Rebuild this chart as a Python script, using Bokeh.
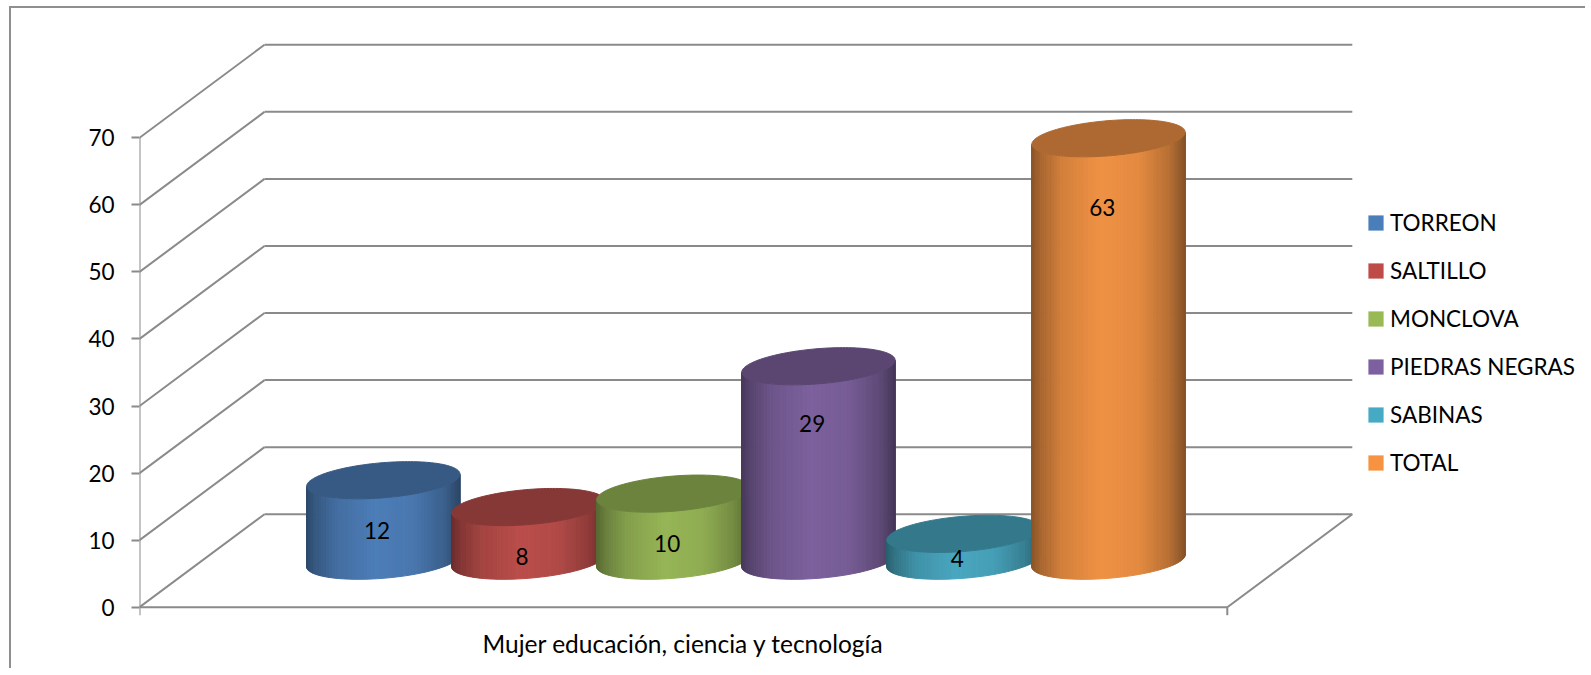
import numpy as np
from bokeh.plotting import figure
from bokeh.models import Range1d, FixedTicker, Legend, LegendItem
from bokeh.embed import file_html
from bokeh.resources import INLINE
from bokeh.core.properties import value

# ---------------- data ----------------
category = ["Mujer educación, ciencia y tecnología"]
series = ["TORREON", "SALTILLO", "MONCLOVA", "PIEDRAS NEGRAS", "SABINAS", "TOTAL"]
values = [12, 8, 10, 29, 4, 63]
y_ticks = [0, 10, 20, 30, 40, 50, 60, 70]
colors = ["#4F81BD", "#C0504D", "#9BBB59", "#8064A2", "#4BACC6", "#F79646"]
legend_colors = ["#4A7EBB", "#BE4B48", "#98B954", "#7D60A0", "#46AAC5", "#F69240"]

# ---------------- layout (screen constants) ----------------
W, H = 1576, 662
LEFT = 128                 # frame left inside figure
PX_X = 181.3               # px per slot unit along the category axis
PX_Y = 6.7057              # px per value unit
ZERO_FROM_TOP = 598.7      # px from frame top to value 0 (front plane)
N_SLOTS = 6.0              # category axis length in slot units
DX = 125.0 / PX_X          # depth shift in x units
DY = 93.0 / PX_Y           # depth shift in value units
BAR_STEP = 0.8
RX = 0.4                   # cylinder radius along x (slot units)
RD = 0.2                   # cylinder radius along depth (fraction of depth)
NSTRIP = 60
GRID = "#8a8a8a"
FONT = "Lato"
FS = "22.5px"

x_end = (W - LEFT) / PX_X
y_end = ZERO_FROM_TOP / PX_Y
y_start = -(H - ZERO_FROM_TOP) / PX_Y

p = figure(width=W, height=H, output_backend="svg", toolbar_location=None,
           x_range=Range1d(0, x_end), y_range=Range1d(y_start, y_end),
           x_axis_location=None, y_axis_location="left",
           min_border_left=LEFT, min_border_right=0, min_border_top=0, min_border_bottom=0,
           background_fill_color="white", border_fill_color="white",
           styles={"position": "absolute", "left": "9px", "top": "6px",
                   "border-left": "2px solid #8f8f8f", "border-top": "2px solid #8f8f8f"})
p.grid.visible = False
p.outline_line_color = None

ax = p.yaxis[0]
ax.ticker = FixedTicker(ticks=y_ticks)
ax.axis_line_color = None
ax.major_tick_out = 8
ax.major_tick_in = 0
ax.major_tick_line_color = GRID
ax.major_tick_line_width = 2
ax.minor_tick_line_color = None
ax.major_label_standoff = 17
ax.major_label_text_font = FONT
ax.major_label_text_font_size = FS
ax.major_label_text_color = "#000000"


def proj(x, v, d):
    return x + d * DX, v + d * DY


# ---------------- walls / floor ----------------
xs, ys = [], []
top_tick = y_ticks[-1]
for t in y_ticks:
    a = proj(0, t, 1)
    b = proj(N_SLOTS, t, 1)
    xs.append([a[0], b[0]]); ys.append([a[1], b[1]])
    c = proj(0, t, 0)
    xs.append([c[0], a[0]]); ys.append([c[1], a[1]])
f0 = proj(0, 0, 0); f1 = proj(N_SLOTS, 0, 0); f2 = proj(N_SLOTS, 0, 1)
xs += [[f0[0], f1[0]], [f1[0], f2[0]], [f0[0], f0[0]]]
ys += [[f0[1], f1[1]], [f1[1], f2[1]], [0, top_tick]]
tick_len = 8 / PX_Y
for xe in (0, N_SLOTS):
    xs.append([xe, xe]); ys.append([0, -tick_len])
p.multi_line(xs, ys, line_color=GRID, line_width=2)


# ---------------- cylinders ----------------
def shade(hexcol, f):
    h = hexcol.lstrip("#")
    rgb = [int(h[i:i + 2], 16) for i in (0, 2, 4)]
    return "#%02x%02x%02x" % tuple(max(0, min(255, int(round(c * f)))) for c in rgb)


prof_s = [0.0, 0.06, 0.2, 0.45, 0.7, 0.9, 1.0]
prof_f = [0.56, 0.68, 0.85, 0.97, 0.92, 0.74, 0.55]

n = len(values)
centers = [N_SLOTS / 2 + (i - (n - 1) / 2) * BAR_STEP for i in range(n)]
t0 = np.arctan2(RD * DX, RX)
ts = np.linspace(np.pi + t0, 2 * np.pi + t0, NSTRIP + 1)
tt = np.linspace(0, 2 * np.pi, 160)

for cx, val, col in zip(centers, values, colors):
    d = 0.5 + RD * np.sin(ts)
    X = cx + RX * np.cos(ts) + d * DX
    Yb = d * DY
    Yt = val + d * DY
    xmin, xmax = X.min(), X.max()
    sx, sy, fills = [], [], []
    for k in range(NSTRIP):
        sx.append([X[k], X[k + 1], X[k + 1], X[k]])
        sy.append([Yb[k], Yb[k + 1], Yt[k + 1], Yt[k]])
        s = ((X[k] + X[k + 1]) / 2 - xmin) / (xmax - xmin)
        fills.append(shade(col, float(np.interp(s, prof_s, prof_f))))
    p.patches(sx, sy, fill_color=fills, line_color=fills, line_width=1)
    dt = 0.5 + RD * np.sin(tt)
    topc = shade(col, 0.70)
    p.patch(cx + RX * np.cos(tt) + dt * DX, val + dt * DY,
            fill_color=topc, line_color=topc, line_width=1)

# value labels
lab_x = [c + 0.45 * DX for c in centers]
lab_y = [max(0.945 * v - 6.9, 0.3) + 0.5 * DY for v in values]
p.text(x=lab_x, y=lab_y, text=[str(v) for v in values], text_font=value(FONT),
       text_font_size=FS, text_align="center", text_baseline="middle", text_color="#000000")

# category label
p.text(x=[N_SLOTS / 2], y=[-(36.6 / PX_Y)], text=category, text_font=value(FONT),
       text_font_size="24.5px", text_align="center", text_baseline="middle", text_color="#000000")

# ---------------- legend ----------------
items = []
for name, lc in zip(series, legend_colors):
    r = p.quad(left=[np.nan], right=[np.nan], top=[np.nan], bottom=[np.nan],
               fill_color=lc, line_color=None)
    items.append(LegendItem(label=name, renderers=[r]))
legend = Legend(items=items, location=(1227, 194), glyph_width=19, glyph_height=19,
                label_standoff=5, label_height=27, spacing=21, padding=0, margin=0,
                border_line_color=None, background_fill_alpha=0,
                label_text_font=FONT, label_text_font_size=FS, label_text_color="#000000")
p.add_layout(legend)

open("out.html", "w").write(file_html(p, INLINE))
